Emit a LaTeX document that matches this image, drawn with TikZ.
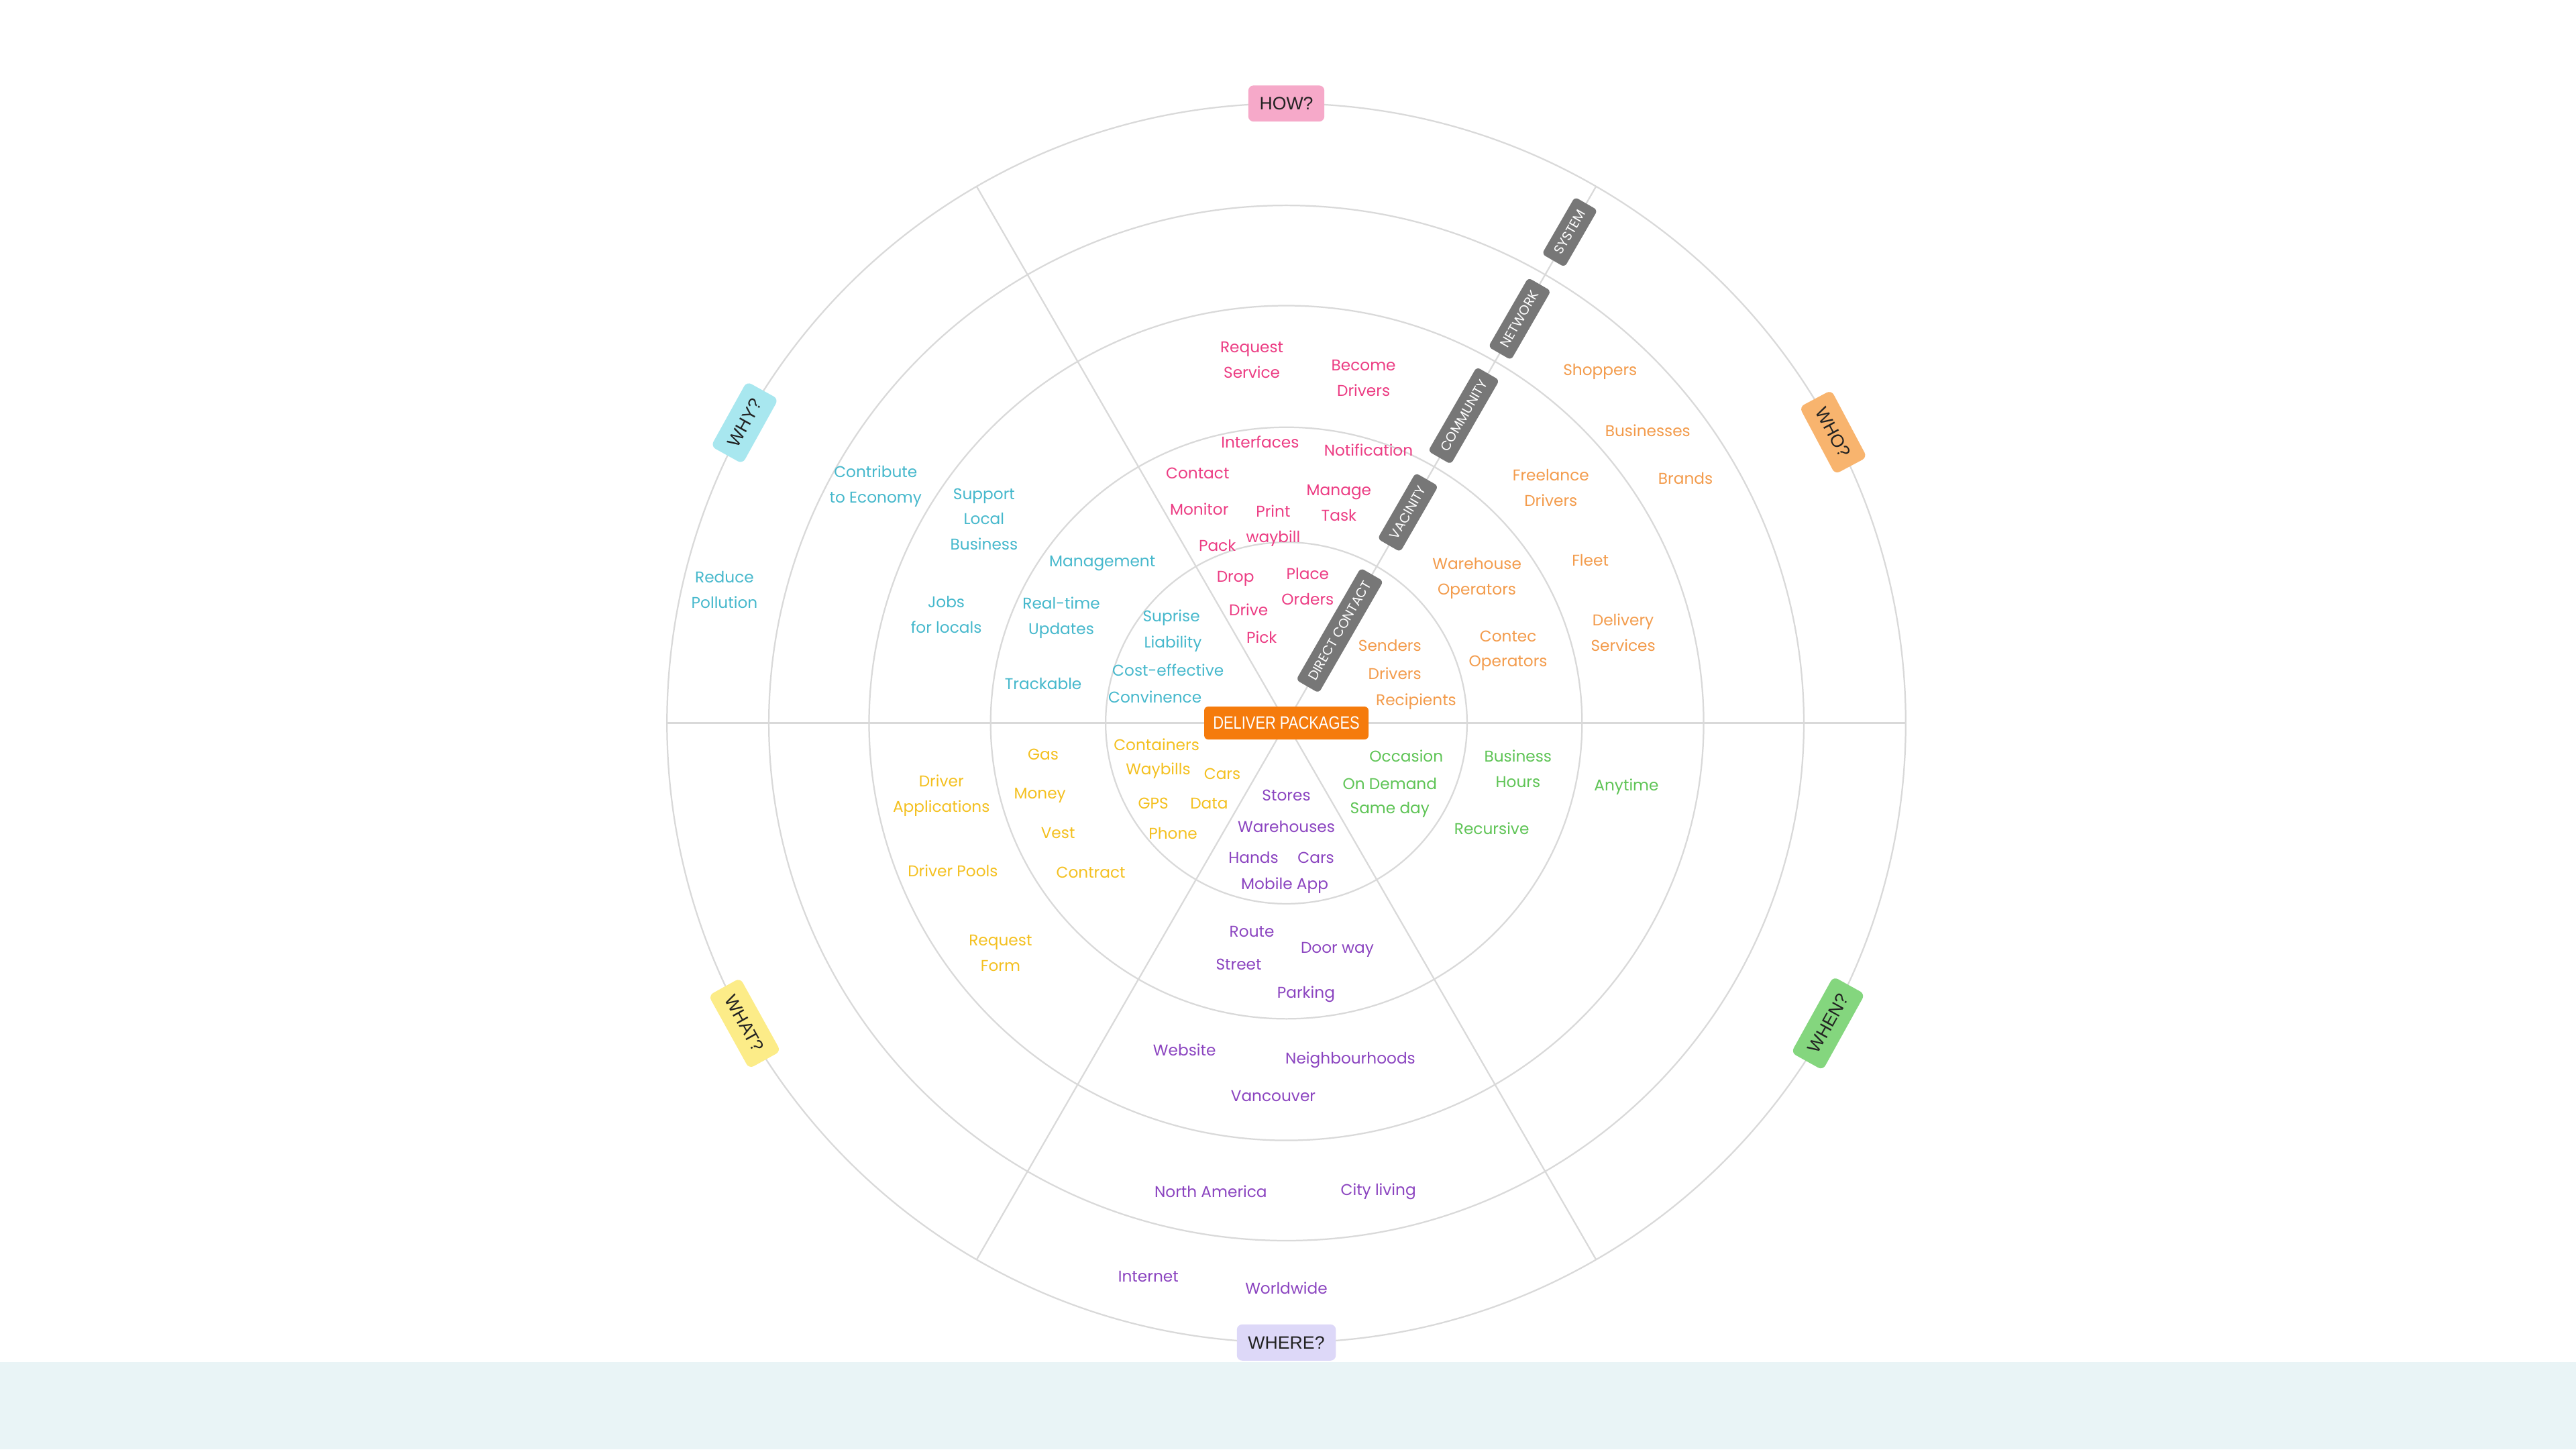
\documentclass[tikz,border=0pt]{standalone}
\usepackage{fontspec}
\setmainfont{Poppins}
\newfontfamily\tagfont{Liberation Sans}
\newfontfamily\hubfont[FakeStretch=0.82]{Liberation Sans}
\usepackage{tikz}
\definecolor{Rule}{HTML}{D9D9D9}
\definecolor{Band}{HTML}{E9F4F6}
\definecolor{Hub}{HTML}{F57B0C}
\definecolor{Level}{HTML}{777777}
\definecolor{TagInk}{HTML}{222222}
\definecolor{HowInk}{HTML}{EC3C83}
\definecolor{HowTag}{HTML}{F6A9C9}
\definecolor{WhoInk}{HTML}{F39B4B}
\definecolor{WhoTag}{HTML}{F8B46E}
\definecolor{WhyInk}{HTML}{45B8CC}
\definecolor{WhyTag}{HTML}{A8E7EF}
\definecolor{WhatInk}{HTML}{F4C01F}
\definecolor{WhatTag}{HTML}{FCEC88}
\definecolor{WhereInk}{HTML}{8B44C0}
\definecolor{WhereTag}{HTML}{DDD8F8}
\definecolor{WhenInk}{HTML}{5EC455}
\definecolor{WhenTag}{HTML}{84D67E}

\begin{document}
\begin{tikzpicture}[
  x=0.5mm,y=0.5mm,
  ring/.style={draw=Rule,line width=1.3pt},
  item/.style={align=center,inner sep=1pt,font=\fontsize{13.5}{22}\selectfont},
  how/.style={item,text=HowInk},
  who/.style={item,text=WhoInk},
  why/.style={item,text=WhyInk},
  what/.style={item,text=WhatInk},
  where/.style={item,text=WhereInk},
  when/.style={item,text=WhenInk},
  tag/.style={rounded corners=1.6mm,minimum height=11mm,inner xsep=3.4mm,text=TagInk,font=\tagfont\fontsize{15.5}{18}\selectfont},
  levelbox/.style={fill=Level,rounded corners=1.2mm,minimum height=8mm,inner xsep=2.6mm,text=white,font=\fontsize{11.5}{13}\selectfont},
  hubbox/.style={fill=Hub,rounded corners=1.2mm,minimum width=50mm,minimum height=10mm,text=white,font=\hubfont\fontsize{15.5}{17}\selectfont}
]
\fill[white] (-783,-442) rectangle (785,440);
\fill[Band] (-783,-389) rectangle (785,-442);
\useasboundingbox (-783,-442) rectangle (785,440);
\coordinate (o) at (0,0);
% rings and spokes
\draw[ring] (o) circle[radius=188.5mm];
\draw[ring] (o) circle[radius=157.5mm];
\draw[ring] (o) circle[radius=127mm];
\draw[ring] (o) circle[radius=90mm];
\draw[ring] (o) circle[radius=55mm];
\draw[ring] (180:377)--(0:377);
\draw[ring] (o)--(60:377); \draw[ring] (o)--(120:377);
\draw[ring] (o)--(240:377); \draw[ring] (o)--(300:377);
% scale along the spoke
\node[levelbox,rotate=60] (system) at (60:345) {SYSTEM};
\node[levelbox,rotate=60] (network) at (60:284) {NETWORK};
\node[levelbox,rotate=60] (community) at (60:216) {COMMUNITY};
\node[levelbox,rotate=60] (vacinity) at (60:148) {VACINITY};
\node[levelbox,rotate=60] (direct) at (60:65) {DIRECT CONTACT};
\node[hubbox] (hub) at (o) {DELIVER PACKAGES};
% question tags
\node[tag,fill=HowTag] (howq) at (90:377) {HOW?};
\node[tag,fill=WhoTag,rotate=-62] (whoq) at (28:377) {WHO?};
\node[tag,fill=WhenTag,rotate=61] (whenq) at (-29:377) {WHEN?};
\node[tag,fill=WhereTag] (whereq) at (270:377) {WHERE?};
\node[tag,fill=WhatTag,rotate=-61] (whatq) at (209:377) {WHAT?};
\node[tag,fill=WhyTag,rotate=61] (whyq) at (151:377) {WHY?};
% how
\node[how] (rqsvc) at (-21,221) {Request\\Service};
\node[how] (bcdrv) at (47,210) {Become\\Drivers};
\node[how] (ifaces) at (-16,171) {Interfaces};
\node[how] (notif) at (50,166) {Notification};
\node[how] (contact) at (-54,152) {Contact};
\node[how] (mngtask) at (32,134) {Manage\\Task};
\node[how] (monitor) at (-53,130) {Monitor};
\node[how] (printwb) at (-8,120) {Print\\waybill};
\node[how] (pack) at (-42,108) {Pack};
\node[how] (drop) at (-31,88) {Drop};
\node[how] (placeord) at (13,83) {Place\\Orders};
\node[how] (drive) at (-23,69) {Drive};
\node[how] (pick) at (-15,52) {Pick};
% who
\node[who] (shoppers) at (191,214) {Shoppers};
\node[who] (business) at (220,178) {Businesses};
\node[who] (brands) at (243,149) {Brands};
\node[who] (freelance) at (161,143) {Freelance\\Drivers};
\node[who] (fleet) at (185,99) {Fleet};
\node[who] (whops) at (116,88) {Warehouse\\Operators};
\node[who] (delsvc) at (205,55) {Delivery\\Services};
\node[who] (contec) at (135,44) {Contec\\Operators};
\node[who] (senders) at (63,47) {Senders};
\node[who] (drivers) at (66,30) {Drivers};
\node[who] (recips) at (79,13) {Recipients};
% why
\node[why] (reducep) at (-342,81) {Reduce\\Pollution};
\node[why] (contrib) at (-250,144) {Contribute\\to Economy};
\node[why] (suplocal) at (-184,124) {Support\\Local\\Business};
\node[why] (jobs) at (-207,66) {Jobs\\for locals};
\node[why] (mgmt) at (-112,97) {Management};
\node[why] (realtime) at (-137,64) {Real-time\\Updates};
\node[why] (track) at (-148,24) {Trackable};
\node[why] (suprise) at (-70,64) {Suprise};
\node[why] (liab) at (-69,48) {Liability};
\node[why] (costeff) at (-72,32) {Cost-effective};
\node[why] (conv) at (-80,16) {Convinence};
% what
\node[what] (gas) at (-148,-19) {Gas};
\node[what] (drvapps) at (-210,-44) {Driver\\Applications};
\node[what] (money) at (-150,-44) {Money};
\node[what] (vest) at (-139,-67) {Vest};
\node[what] (drvpools) at (-203,-90) {Driver Pools};
\node[what] (contract) at (-119,-91) {Contract};
\node[what] (reqform) at (-174,-140) {Request\\Form};
\node[what] (contain) at (-79,-13) {Containers};
\node[what] (waybills) at (-78,-29) {Waybills};
\node[what] (carsa) at (-39,-31) {Cars};
\node[what] (gps) at (-81,-49) {GPS};
\node[what] (data) at (-47,-49) {Data};
\node[what] (phone) at (-69,-67) {Phone};
% where
\node[where] (stores) at (0,-44) {Stores};
\node[where] (whouses) at (0,-63) {Warehouses};
\node[where] (hands) at (-20,-82) {Hands};
\node[where] (carsb) at (18,-82) {Cars};
\node[where] (mobapp) at (-1,-99) {Mobile App};
\node[where] (route) at (-21,-127) {Route};
\node[where] (doorway) at (31,-138) {Door way};
\node[where] (street) at (-29,-147) {Street};
\node[where] (parking) at (12,-165) {Parking};
\node[where] (website) at (-62,-199) {Website};
\node[where] (neigh) at (39,-205) {Neighbourhoods};
\node[where] (vanc) at (-8,-227) {Vancouver};
\node[where] (northam) at (-46,-285) {North America};
\node[where] (city) at (56,-285) {City living};
\node[where] (internet) at (-84,-337) {Internet};
\node[where] (world) at (0,-344) {Worldwide};
% when
\node[when] (occasion) at (73,-20) {Occasion};
\node[when] (ondemand) at (63,-37) {On Demand};
\node[when] (sameday) at (63,-53) {Same day};
\node[when] (bizhours) at (141,-28) {Business\\Hours};
\node[when] (recursive) at (125,-64) {Recursive};
\node[when] (anytime) at (207,-39) {Anytime};
\end{tikzpicture}
\end{document}
